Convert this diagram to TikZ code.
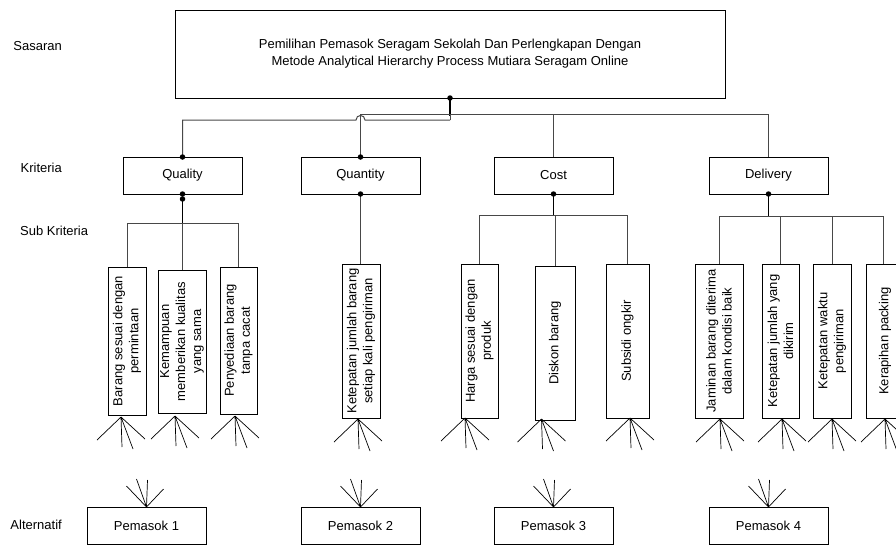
\documentclass[tikz,border=0pt]{standalone}
\usepackage{fontspec}
\setmainfont{Liberation Sans}
\definecolor{conncol}{RGB}{72,72,72}
\newcommand{\mysub}[6]{%
  \node[box, minimum width={#4-#2}, minimum height={#5-#3}] (#1) at ({(#2+#4)/2},{(#3+#5)/2}) {};
  \node[stext] (#1t) at (#1.center) {#6};}
\newcommand{\myfandown}[1]{%
  \draw[fan] (#1) -- ++(-24,23) (#1) -- ++(1,30) (#1) -- ++(12,32) (#1) -- ++(24,22);}
\newcommand{\myfanup}[1]{%
  \draw[fan] (#1) -- ++(-20,-21) (#1) -- ++(-10,-28) (#1) -- ++(1,-27) (#1) -- ++(17,-18);}
\begin{document}
\begin{tikzpicture}[x=1pt,y=-1pt,
  font=\fontsize{13}{17}\selectfont,
  box/.style={draw=black, line width=0.9pt, inner sep=0pt, outer sep=0pt},
  stext/.style={rotate=90, align=center, inner sep=0pt, font=\fontsize{13}{16}\selectfont},
  conn/.style={draw=conncol, line width=1pt},
  thk/.style={draw=black, line width=1.6pt},
  fan/.style={draw=black, line width=0.7pt},
  dot/.style={circle, fill=black, inner sep=0pt, minimum size=5.5pt},
  lbl/.style={inner sep=0pt}]
\useasboundingbox (0,0) rectangle (896,546);

% level labels
\node[lbl, anchor=east] (lsas) at (62,46) {Sasaran};
\node[lbl, anchor=east] (lkri) at (62,168) {Kriteria};
\node[lbl, anchor=west] (lsub) at (20,231) {Sub Kriteria};
\node[lbl, anchor=east] (lalt) at (62,525) {Alternatif};

% goal
\node[box, minimum width=550, minimum height=88, align=center] (goal) at (450,54)
  {Pemilihan Pemasok Seragam Sekolah Dan Perlengkapan Dengan\\Metode Analytical Hierarchy Process Mutiara Seragam Online};

% criteria
\node[box, minimum width=119, minimum height=37] (quality)  at (182.5,175.5) {Quality};
\node[box, minimum width=119, minimum height=37] (quantity) at (360.5,175.5) {Quantity};
\node[box, minimum width=119, minimum height=37] (cost)     at (553.5,175.5) {Cost};
\node[box, minimum width=119, minimum height=37] (delivery) at (768.5,175.5) {Delivery};

% goal -> criteria
\coordinate (j1) at (450,120);
\coordinate (j2) at (450,114);
\draw[thk] (goal.south) -- ([yshift=-2pt]j2);
\draw[conn] (j1) -- ([xshift=4.5pt]quantity.north |- j1)
  .. controls ([xshift=4.5pt,yshift=6pt]quantity.north |- j1) and ([xshift=-4.5pt,yshift=6pt]quantity.north |- j1)
  .. ([xshift=-4.5pt]quantity.north |- j1) -- (quality.north |- j1) -- (quality.north);
\draw[conn] (quantity.north |- j2) -- (delivery.north |- j2) -- (delivery.north);
\draw[conn] (quantity.north |- j2) -- (quantity.north);
\draw[conn] (cost.north |- j2) -- (cost.north);
\draw[conn] (j2) -- (j1);
\node[dot] (dgoal) at (goal.south) {};
\node[dot] (dqn) at (quality.north) {};
\node[dot] (dqtn) at (quantity.north) {};

% sub criteria boxes
\mysub{q1}{108}{267}{146}{415}{Barang sesuai dengan\\permintaan}
\mysub{q2}{158}{270}{206}{413}{Kemampuan\\memberikan kualitas\\yang sama}
\mysub{q3}{220}{267}{257}{414}{Penyediaan barang\\tanpa cacat}
\mysub{t1}{342}{264}{380}{418}{Ketepatan jumlah barang\\setiap kali pengiriman}
\mysub{c1}{461}{264}{498}{418}{Harga sesuai dengan\\produk}
\mysub{c2}{535}{266}{575}{420}{Diskon barang}
\mysub{c3}{606}{264}{649}{418}{Subsidi ongkir}
\mysub{e1}{695}{264}{743}{418}{Jaminan barang diterima\\dalam kondisi baik}
\mysub{e2}{762}{264}{799}{418}{Ketepatan jumlah yang\\dikirim}
\mysub{e3}{813}{264}{851}{418}{Ketepatan waktu\\pengiriman}
\mysub{e4}{866}{264}{904}{418}{Kerapihan packing}

% quality -> subs
\coordinate (qb) at (182.5,223);
\draw[thk] ([yshift=-5pt]quality.south) -- (qb);
\draw[conn] (q1.north |- qb) -- (q3.north |- qb);
\draw[conn] (q1.north |- qb) -- (q1.north);
\draw[conn] (q2.north |- qb) -- (q2.north);
\draw[conn] (q3.north |- qb) -- (q3.north);
\node[dot] (dqs1) at (quality.south) {};
\node[dot] (dqs2) at ([yshift=-5pt]quality.south) {};

% quantity -> sub
\draw[conn] (quantity.south) -- (t1.north -| quantity.south);
\node[dot] (dqts) at (quantity.south) {};

% cost -> subs
\coordinate (cb) at (553.5,215);
\draw[thk] (cost.south) -- (cb);
\draw[conn] (c1.north |- cb) -- (c3.north |- cb);
\draw[conn] (c1.north |- cb) -- (c1.north);
\draw[conn] (c2.north |- cb) -- (c2.north);
\draw[conn] (c3.north |- cb) -- (c3.north);
\node[dot] (dcs) at (cost.south) {};

% delivery -> subs
\coordinate (eb) at (768.5,216);
\draw[thk] (delivery.south) -- (eb);
\draw[conn] (e1.north |- eb) -- ([xshift=-2pt]e4.north |- eb);
\draw[conn] (e1.north |- eb) -- (e1.north);
\draw[conn] (e2.north |- eb) -- (e2.north);
\draw[conn] (e3.north |- eb) -- (e3.north);
\draw[conn] ([xshift=-2pt]e4.north |- eb) -- ([xshift=-2pt]e4.north);
\node[dot] (dds) at (delivery.south) {};

% fans below sub criteria
\coordinate (fq1) at ([xshift=-6pt,yshift=-2pt]q1.south);
\coordinate (fq2) at ([xshift=-7pt,yshift=-3pt]q2.south);
\coordinate (fq3) at ([xshift=-3.5pt,yshift=-2pt]q3.south);
\coordinate (ft1) at ([xshift=-3pt,yshift=-1pt]t1.south);
\coordinate (fc1) at ([xshift=-14.5pt]c1.south);
\coordinate (fc2) at ([xshift=-13.5pt,yshift=1pt]c2.south);
\coordinate (fc3) at ([xshift=2.5pt]c3.south);
\coordinate (fe1) at ([xshift=1pt,yshift=-1pt]e1.south);
\coordinate (fe2) at ([xshift=1.5pt,yshift=-1pt]e2.south);
\coordinate (fe3) at ([yshift=-1pt]e3.south);
\coordinate (fe4) at ([xshift=0pt,yshift=-1pt]e4.south);
\foreach \f in {fq1,fq2,fq3,ft1,fc1,fc2,fc3,fe1,fe2,fe3,fe4}{\myfandown{\f}}

% alternatives
\node[box, minimum width=119, minimum height=37] (p1) at (146.5,525.5) {Pemasok 1};
\node[box, minimum width=119, minimum height=37] (p2) at (360.5,525.5) {Pemasok 2};
\node[box, minimum width=119, minimum height=37] (p3) at (553.5,525.5) {Pemasok 3};
\node[box, minimum width=119, minimum height=37] (p4) at (768.5,525.5) {Pemasok 4};
\foreach \p in {p1,p2,p3,p4}{\myfanup{\p.north}}
\end{tikzpicture}
\end{document}
